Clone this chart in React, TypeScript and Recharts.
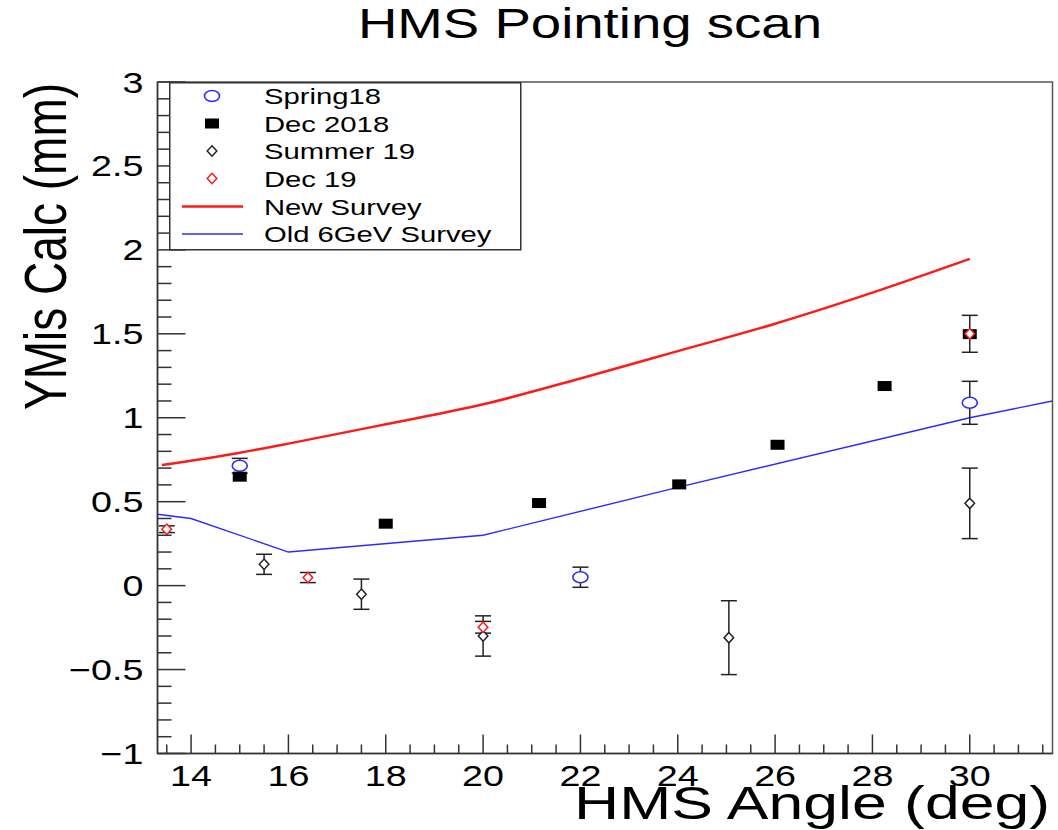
import React from "react";
import {
  ComposedChart,
  Line,
  Scatter,
  ErrorBar,
  XAxis,
  YAxis,
  ReferenceArea,
  Legend,
} from "recharts";

const FONT = '"Liberation Sans", Arial, Helvetica, sans-serif';
const SX = 1.3; // the picture is stretched sideways

// survey curves
const newSurveyAngle = [13.4, 15, 16, 18, 20, 22, 24, 26, 28, 30];
const newSurveyYMis = [0.718, 0.792, 0.846, 0.961, 1.08, 1.234, 1.397, 1.56, 1.745, 1.946];

const oldSurveyAngle = [13.31, 14, 16, 20, 24, 30, 31.7];
const oldSurveyYMis = [0.425, 0.4, 0.2, 0.3, 0.585, 1.0, 1.1];

// measurements
const spring18Angle = [15, 22, 30];
const spring18YMis = [0.714, 0.05, 1.089];
const spring18Err = [0.044, 0.06, 0.128];

const dec2018Angle = [15, 18, 21.15, 24.03, 26.05, 28.25, 30];
const dec2018YMis = [0.649, 0.369, 0.492, 0.603, 0.839, 1.189, 1.498];

const summer19Angle = [15.5, 17.5, 20, 25.05, 30];
const summer19YMis = [0.127, -0.051, -0.3, -0.31, 0.49];
const summer19Err = [0.06, 0.09, 0.12, 0.22, 0.21];

const dec19Angle = [13.5, 16.4, 20, 30];
const dec19YMis = [0.336, 0.048, -0.248, 1.5];
const dec19Err = [0.02, 0.03, 0.035, 0.11];

// axes
const xDomain = [13.31, 31.7];
const yDomain = [-1, 3];
const xMajorTicks = [14, 16, 18, 20, 22, 24, 26, 28, 30];
const yMajorTicks = [-1, -0.5, 0, 0.5, 1, 1.5, 2, 2.5, 3];

const xTicks: number[] = [];
for (let v = 13.5; v <= 31.5 + 1e-9; v += 0.5) xTicks.push(Math.round(v * 10) / 10);
const yTicks: number[] = [];
for (let i = -10; i <= 30; i++) yTicks.push(i / 10);

const zip = (xs: number[], ys: number[], es?: number[]) =>
  xs.map((x, i) => ({ x, y: ys[i], err: es ? es[i] : 0 }));

const BLUE = "#2a2aff";
const RED = "#ff1a1a";
const AXIS = "#333";

const legendItems = [
  { name: "Spring18", kind: "circle", color: BLUE },
  { name: "Dec 2018", kind: "square", color: "#000" },
  { name: "Summer 19", kind: "diamond", color: "#222" },
  { name: "Dec 19", kind: "diamond", color: RED },
  { name: "New Survey", kind: "line", color: RED, width: 2.5 },
  { name: "Old 6GeV Survey", kind: "line", color: BLUE, width: 1.4 },
];

function Marker({ kind, cx, cy, color }: { kind: string; cx: number; cy: number; color: string }) {
  if (kind === "circle")
    return <ellipse cx={cx} cy={cy} rx={7.5} ry={5.5} fill="#fff" stroke={color} strokeWidth={1.6} />;
  if (kind === "square")
    return <rect x={cx - 7} y={cy - 5} width={14} height={10} fill={color} />;
  return (
    <polygon
      points={`${cx},${cy - 5.2} ${cx + 4.8},${cy} ${cx},${cy + 5.2} ${cx - 4.8},${cy}`}
      fill="#fff"
      stroke={color}
      strokeWidth={1.5}
    />
  );
}

const shapeOf = (kind: string, color: string) => (p: any) =>
  <Marker kind={kind} cx={p.cx} cy={p.cy} color={color} />;

function YTick(props: any) {
  const { x, y, payload } = props;
  const v = payload.value;
  const major = yMajorTicks.some((t) => Math.abs(t - v) < 1e-6);
  const label = v < 0 ? "\u2212" + String(Math.abs(v)) : String(v);
  return (
    <g>
      <line x1={x} y1={y} x2={x + (major ? 28 : 14)} y2={y} stroke={AXIS} strokeWidth={1.5} />
      {major && (
        <text
          transform={`translate(${x - 14},${y + 10.5}) scale(${SX},1)`}
          textAnchor="end"
          fontFamily={FONT}
          fontSize={29}
          fill="#000"
        >
          {label}
        </text>
      )}
    </g>
  );
}

function XTick(props: any) {
  const { x, y, payload } = props;
  const v = payload.value;
  const major = xMajorTicks.includes(v);
  return (
    <g>
      <line x1={x} y1={y} x2={x} y2={y - (major ? 19 : 9)} stroke={AXIS} strokeWidth={1.5} />
      {major && (
        <text
          transform={`translate(${x},${y + 32}) scale(${SX},1)`}
          textAnchor="middle"
          fontFamily={FONT}
          fontSize={29}
          fill="#000"
        >
          {v}
        </text>
      )}
    </g>
  );
}

function LegendBox() {
  const rows = [14, 41.5, 69, 96.5, 124.5, 152];
  return (
    <svg width={354} height={170} style={{ display: "block" }}>
      <rect x={0.75} y={0.75} width={351} height={167} fill="#fff" stroke={AXIS} strokeWidth={1.5} />
      {legendItems.map((it, i) => (
        <g key={it.name}>
          {it.kind === "line" ? (
            <line x1={13} y1={rows[i]} x2={74} y2={rows[i]} stroke={it.color} strokeWidth={it.width} />
          ) : (
            <Marker kind={it.kind} cx={43} cy={rows[i]} color={it.color} />
          )}
          <text
            transform={`translate(95,${rows[i] + 8}) scale(${SX},1)`}
            fontFamily={FONT}
            fontSize={22.5}
            fill="#000"
          >
            {it.name}
          </text>
        </g>
      ))}
    </svg>
  );
}

export default function App() {
  return (
    <div style={{ position: "absolute", left: 0, top: 0, width: 1058, height: 830, background: "#fff" }}>
      <ComposedChart width={1058} height={830} margin={{ top: 82, right: 5.5, bottom: 0, left: 0 }}>
        <XAxis
          dataKey="x"
          type="number"
          domain={xDomain}
          allowDataOverflow
          ticks={xTicks}
          interval={0}
          tick={<XTick />}
          tickLine={false}
          tickSize={0}
          tickMargin={0}
          height={76.5}
          axisLine={{ stroke: AXIS, strokeWidth: 1.5 }}
        />
        <YAxis
          type="number"
          domain={yDomain}
          allowDataOverflow
          ticks={yTicks}
          interval={0}
          tick={<YTick />}
          tickLine={false}
          tickSize={0}
          tickMargin={0}
          width={157.5}
          axisLine={{ stroke: AXIS, strokeWidth: 1.5 }}
        />
        <ReferenceArea
          x1={xDomain[0]}
          x2={xDomain[1]}
          y1={yDomain[0]}
          y2={yDomain[1]}
          fill="none"
          stroke="#555"
          strokeWidth={1.5}
        />
        <Legend
          layout="vertical"
          align="center"
          verticalAlign="middle"
          content={() => <LegendBox />}
          wrapperStyle={{ left: 169, top: 82, width: 354, height: 170 }}
        />
        <Line
          data={zip(newSurveyAngle, newSurveyYMis)}
          dataKey="y"
          type="monotone"
          dot={false}
          stroke={RED}
          strokeWidth={2.5}
          isAnimationActive={false}
        />
        <Line
          data={zip(oldSurveyAngle, oldSurveyYMis)}
          dataKey="y"
          type="linear"
          dot={false}
          stroke={BLUE}
          strokeWidth={1.4}
          isAnimationActive={false}
        />
        <Scatter
          data={zip(spring18Angle, spring18YMis, spring18Err)}
          dataKey="y"
          shape={shapeOf("circle", BLUE)}
          isAnimationActive={false}
        >
          <ErrorBar dataKey="err" direction="y" width={8} stroke="#222" strokeWidth={1.5} />
        </Scatter>
        <Scatter
          data={zip(dec2018Angle, dec2018YMis)}
          dataKey="y"
          shape={shapeOf("square", "#000")}
          isAnimationActive={false}
        />
        <Scatter
          data={zip(summer19Angle, summer19YMis, summer19Err)}
          dataKey="y"
          shape={shapeOf("diamond", "#222")}
          isAnimationActive={false}
        >
          <ErrorBar dataKey="err" direction="y" width={8} stroke="#222" strokeWidth={1.5} />
        </Scatter>
        <Scatter
          data={zip(dec19Angle, dec19YMis, dec19Err)}
          dataKey="y"
          shape={shapeOf("diamond", RED)}
          isAnimationActive={false}
        >
          <ErrorBar dataKey="err" direction="y" width={8} stroke="#222" strokeWidth={1.5} />
        </Scatter>
      </ComposedChart>
      <svg
        width={1058}
        height={830}
        style={{ position: "absolute", left: 0, top: 0, pointerEvents: "none" }}
      >
        <text
          transform={`translate(590,38) scale(${SX},1)`}
          textAnchor="middle"
          fontFamily={FONT}
          fontSize={42}
          fill="#000"
        >
          HMS Pointing scan
        </text>
        <text
          transform="translate(1050,819) scale(1.33,1)"
          textAnchor="end"
          fontFamily={FONT}
          fontSize={47}
          fill="#000"
        >
          HMS Angle (deg)
        </text>
        <text
          transform={`translate(66,83) scale(${SX},1) rotate(-90)`}
          textAnchor="end"
          fontFamily={FONT}
          fontSize={46}
          fill="#000"
        >
          YMis Calc (mm)
        </text>
      </svg>
    </div>
  );
}
